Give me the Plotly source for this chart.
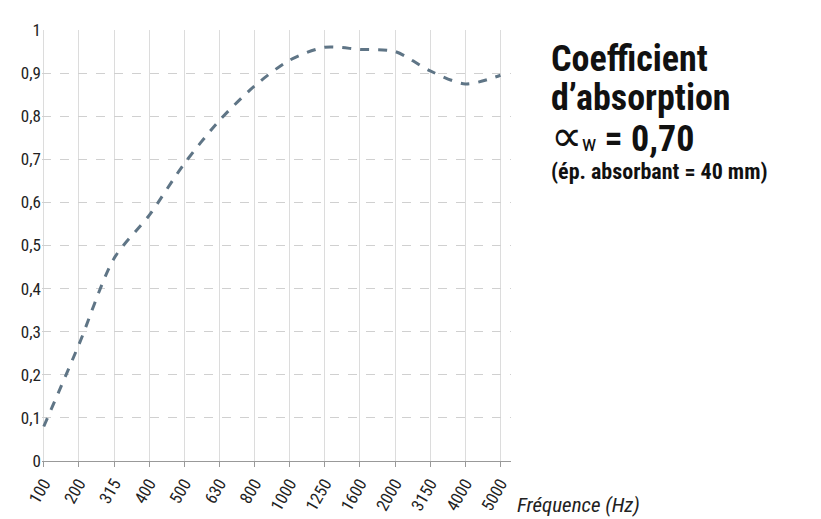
import plotly.graph_objects as go

freqs = ['100', '200', '315', '400', '500', '630', '800', '1000', '1250', '1600', '2000', '3150', '4000', '5000']
alpha = [0.08, 0.27, 0.47, 0.57, 0.69, 0.79, 0.87, 0.93, 0.96, 0.955, 0.95, 0.905, 0.875, 0.895]

fnt = 'Liberation Sans Narrow, Roboto Condensed, Arial Narrow, sans-serif'

fig = go.Figure(go.Scatter(x=freqs, y=alpha, mode='lines',
                           line=dict(color='#5f7586', width=3, dash='dash', shape='spline', smoothing=0.8)))

fig.update_layout(
    width=821, height=519, plot_bgcolor='white', paper_bgcolor='white',
    margin=dict(l=34, r=318, t=13, b=66), showlegend=False,
    font=dict(family=fnt, size=17, color='#222'),
    xaxis=dict(type='category', range=[-0.05, 13.3], showgrid=True, gridcolor='#dcdcdc',
               tickangle=-60, ticks='outside', ticklen=5, tickcolor='#999',
               showline=True, linecolor='#999', tickfont=dict(size=17)),
    yaxis=dict(range=[0, 1.0], showgrid=True, gridcolor='#d0d0d0', griddash='dash',
               zeroline=False, showline=False, tickfont=dict(size=17)),
)
fig.update_yaxes(tickvals=[i / 10 for i in range(11)],
                 ticktext=['0'] + ['0,%d' % i for i in range(1, 10)] + ['1'])

fig.add_annotation(x=1, y=-0.07, xref='paper', yref='paper', xanchor='left', yanchor='top',
                   xshift=4, text='<i>Fréquence (Hz)</i>', showarrow=False, font=dict(size=21))
for txt, y, size in [('<b>Coefficient</b>', 0.985, 36), ('<b>d’absorption</b>', 0.895, 36),
                     ('<span style="font-size:44px">∝</span><span style="font-size:22px">w</span><b> = 0,70</b>', 0.82, 36),
                     ('<b>(ép. absorbant = 40 mm)</b>', 0.705, 22)]:
    fig.add_annotation(x=1.08, y=y, xref='paper', yref='paper', xanchor='left', yanchor='top',
                       text=txt, showarrow=False, font=dict(size=size, color='#111'))

fig.write_html('out.html')
